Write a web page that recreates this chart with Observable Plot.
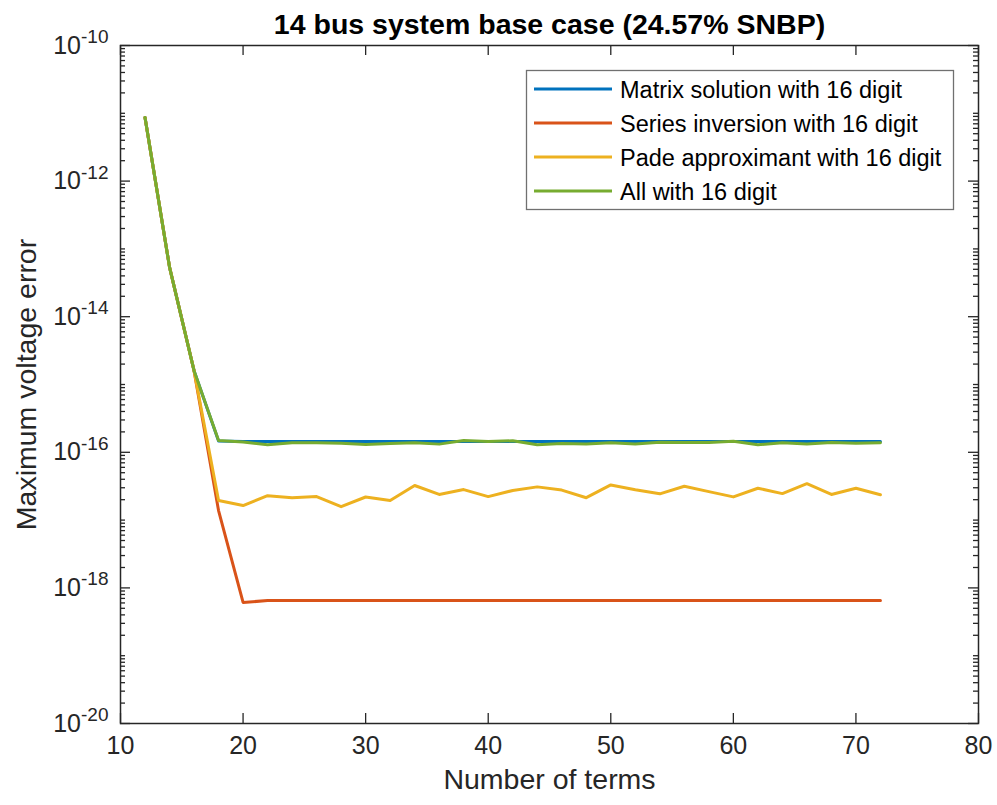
<!DOCTYPE html>
<html>
<head>
<meta charset="utf-8">
<script src="https://cdn.jsdelivr.net/npm/d3@7"></script>
<script src="https://cdn.jsdelivr.net/npm/@observablehq/plot@0.6"></script>
<style>
  html, body { margin: 0; padding: 0; background: #fff; }
  svg { display: block; }
</style>
</head>
<body>
<div id="chart"></div>
<script>
const titleText = "14 bus system base case (24.57% SNBP)";
const xLabel = "Number of terms";
const yLabel = "Maximum voltage error";

const terms = [12,14,16,18,20,22,24,26,28,30,32,34,36,38,40,42,44,46,48,50,52,54,56,58,60,62,64,66,68,70,72];

const matrixSolution = [8.7e-12,5.4e-14,1.6e-15,1.47e-16,1.44e-16,1.44e-16,1.44e-16,1.44e-16,1.44e-16,1.44e-16,
  1.44e-16,1.44e-16,1.44e-16,1.44e-16,1.44e-16,1.44e-16,1.44e-16,1.44e-16,1.44e-16,1.44e-16,
  1.44e-16,1.44e-16,1.44e-16,1.44e-16,1.44e-16,1.44e-16,1.44e-16,1.44e-16,1.44e-16,1.44e-16,1.44e-16];

const seriesInversion = [8.7e-12,5.4e-14,1.6e-15,1.38e-17,6.1e-19,6.5e-19,6.5e-19,6.5e-19,6.5e-19,6.5e-19,
  6.5e-19,6.5e-19,6.5e-19,6.5e-19,6.5e-19,6.5e-19,6.5e-19,6.5e-19,6.5e-19,6.5e-19,
  6.5e-19,6.5e-19,6.5e-19,6.5e-19,6.5e-19,6.5e-19,6.5e-19,6.5e-19,6.5e-19,6.5e-19,6.5e-19];

const padeApproximant = [8.7e-12,5.4e-14,1.6e-15,1.95e-17,1.64e-17,2.29e-17,2.14e-17,2.22e-17,1.58e-17,2.19e-17,
  1.94e-17,3.24e-17,2.39e-17,2.82e-17,2.22e-17,2.74e-17,3.09e-17,2.77e-17,2.14e-17,3.3e-17,
  2.8e-17,2.44e-17,3.16e-17,2.63e-17,2.2e-17,2.95e-17,2.46e-17,3.45e-17,2.39e-17,2.95e-17,2.36e-17];

const allSixteen = [8.7e-12,5.4e-14,1.6e-15,1.49e-16,1.42e-16,1.29e-16,1.38e-16,1.38e-16,1.36e-16,1.30e-16,
  1.35e-16,1.38e-16,1.32e-16,1.49e-16,1.44e-16,1.48e-16,1.29e-16,1.35e-16,1.33e-16,1.38e-16,
  1.33e-16,1.41e-16,1.40e-16,1.40e-16,1.46e-16,1.29e-16,1.38e-16,1.33e-16,1.40e-16,1.36e-16,1.38e-16];

const seriesNames = ["Matrix solution with 16 digit","Series inversion with 16 digit","Pade approximant with 16 digit","All with 16 digit"];
const seriesColors = ["#0072BD","#D95319","#EDB120","#77AC30"];
const seriesValues = [matrixSolution, seriesInversion, padeApproximant, allSixteen];

const xTicks = [10,20,30,40,50,60,70,80];
const yMajorExponents = [-20,-18,-16,-14,-12,-10];
const yMajorTicks = yMajorExponents.map(e => Number(`1e${e}`));
const yMinorMantissas = [1,2,3,4,5,6,7,8,9];
const yDecades = [-20,-19,-18,-17,-16,-15,-14,-13,-12,-11];

// build tables
const rows = [];
seriesNames.forEach((name, i) => {
  terms.forEach((t, j) => rows.push({series: name, terms: t, error: seriesValues[i][j]}));
});
const yMinorTicks = [];
yDecades.forEach(k => yMinorMantissas.forEach(m => {
  const v = Number(`${m}e${k}`);
  if (!(m === 1 && yMajorExponents.includes(k))) yMinorTicks.push(v);
}));

const W = 997, H = 805;
const mL = 120, mR = 19, mT = 45, mB = 82;
const pw = W - mL - mR, ph = H - mT - mB;
const axisColor = "#262626";
const font = "'Liberation Sans', Arial, Helvetica, sans-serif";

const chart = Plot.plot({
  width: W, height: H,
  marginLeft: mL, marginRight: mR, marginTop: mT, marginBottom: mB,
  style: {fontFamily: font, background: "#fff", color: axisColor},
  x: {type: "linear", domain: [10, 80]},
  y: {type: "log", domain: [1e-20, 1e-10]},
  color: {domain: seriesNames, range: seriesColors},
  marks: [
    // inward ticks
    Plot.tickY(yMajorTicks, {y: d => d, insetRight: pw - 10, stroke: axisColor, strokeWidth: 1.3}),
    Plot.tickY(yMajorTicks, {y: d => d, insetLeft: pw - 10, stroke: axisColor, strokeWidth: 1.3}),
    Plot.tickY(yMinorTicks, {y: d => d, insetRight: pw - 5, stroke: axisColor, strokeWidth: 1.3}),
    Plot.tickY(yMinorTicks, {y: d => d, insetLeft: pw - 5, stroke: axisColor, strokeWidth: 1.3}),
    Plot.tickX(xTicks, {x: d => d, insetTop: ph - 10, stroke: axisColor, strokeWidth: 1.3}),
    Plot.tickX(xTicks, {x: d => d, insetBottom: ph - 10, stroke: axisColor, strokeWidth: 1.3}),
    Plot.axisX({ticks: xTicks, tickSize: 0, tickPadding: 13, tickFormat: d => String(d), fontSize: 25, label: null}),
    Plot.axisY({ticks: yMajorTicks, tickSize: 0, tickPadding: 12, tickFormat: d => "10^" + Math.round(Math.log10(d)), fontSize: 25, label: null}),
    Plot.line(rows, {x: "terms", y: "error", stroke: "series", z: "series", strokeWidth: 3, strokeLinejoin: "round"}),
    Plot.frame({stroke: axisColor, strokeWidth: 1.5}),
    Plot.text([titleText], {text: d => d, frameAnchor: "top", dy: -32, fontSize: 28.5, fontWeight: "bold", fill: "#000"}),
    Plot.text([xLabel], {text: d => d, frameAnchor: "bottom", dy: 65, fontSize: 28.5, fill: axisColor}),
    Plot.text([yLabel], {text: d => d, frameAnchor: "left", textAnchor: "middle", rotate: -90, dx: -94, fontSize: 28.5, fill: axisColor})
  ]
});

// superscript exponents on y tick labels
d3.select(chart).selectAll("g[aria-label='y-axis tick label'] text").each(function() {
  const t = d3.select(this);
  const s = t.text();
  const exp = s.split("^")[1];
  t.text("10");
  t.append("tspan").attr("dy", "-0.55em").attr("font-size", "19").text(exp);
});

// legend
const svg = d3.select(chart);
const lg = svg.append("g").attr("aria-label", "legend").attr("font-family", font).attr("text-anchor", "start");
lg.append("rect").attr("x", 526.5).attr("y", 70.5).attr("width", 427).attr("height", 139)
  .attr("fill", "#fff").attr("stroke", "#707070").attr("stroke-width", 1.3);
seriesNames.forEach((name, i) => {
  const y = 89 + i * 34;
  lg.append("line").attr("x1", 534).attr("x2", 612).attr("y1", y).attr("y2", y)
    .attr("stroke", seriesColors[i]).attr("stroke-width", 3);
  lg.append("text").attr("x", 620).attr("y", y + 8.5).attr("font-size", 23.5).attr("fill", "#000")
    .attr("text-anchor", "start").text(name);
});

document.getElementById("chart").appendChild(chart);
</script>
</body>
</html>
